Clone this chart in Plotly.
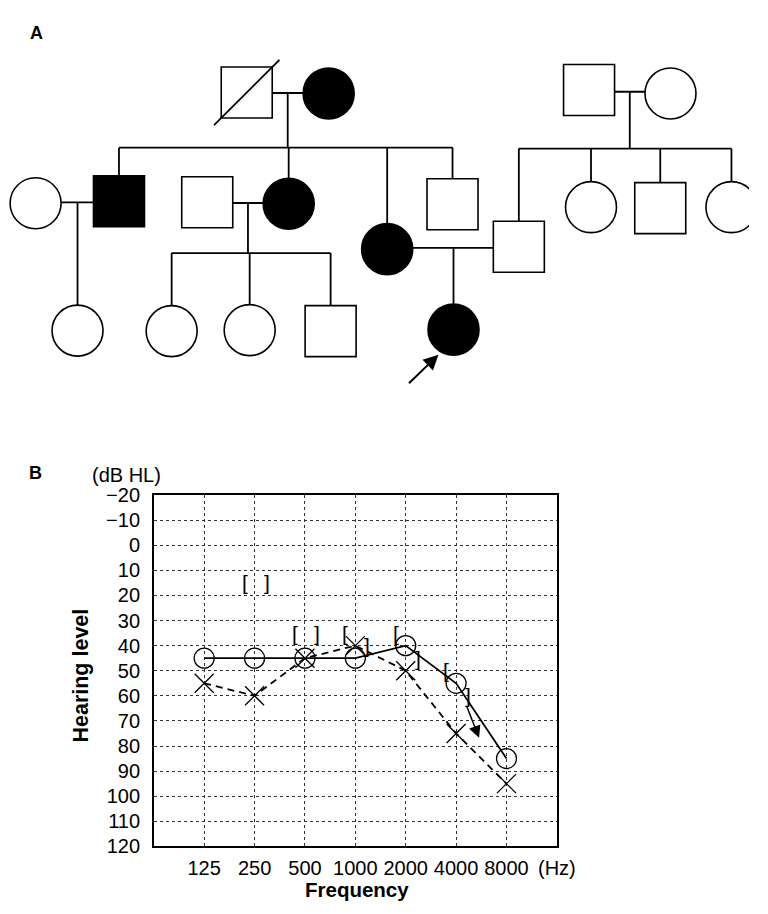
import plotly.graph_objects as go

# ---------------- Panel B: audiogram data ----------------
freq_labels = ["125", "250", "500", "1000", "2000", "4000", "8000"]
unit_label = "(Hz)"
right_air_db = [45, 45, 45, 45, 40, 55, 85]      # O, solid line
left_air_db = [55, 60, 45, 40, 50, 75, 95]       # X, dashed line
right_bone_db = [None, 15, 35, 35, 35, 50, None]  # "["
left_bone_db = [None, 15, 35, 40, 45, 60, None]   # "]"
hl_ticks = list(range(-20, 121, 10))
hl_labels = [("\u2212" + str(-v)) if v < 0 else str(v) for v in hl_ticks]

# ---------------- Panel A: pedigree data ----------------
ped_ids = ["I-1", "I-2", "I-3", "I-4",
           "II-1", "II-2", "II-3", "II-4", "II-5", "II-6", "II-7", "II-8", "II-9", "II-10",
           "III-1", "III-2", "III-3", "III-4", "III-5"]
ped_sex = ["M", "F", "M", "F",
           "F", "M", "M", "F", "F", "M", "M", "F", "M", "F",
           "F", "F", "F", "M", "F"]
ped_affected = [False, True, False, False,
                False, True, False, True, True, False, False, False, False, False,
                False, False, False, False, True]
ped_deceased = ["I-1"]
ped_proband = "III-5"
# (husband, wife, children, sibship-line level or None)
ped_couples = [
    ("I-1", "I-2", ["II-2", "II-4", "II-5", "II-6"], 140),
    ("I-3", "I-4", ["II-7", "II-8", "II-9", "II-10"], 141),
    ("II-2", "II-1", ["III-1"], None),
    ("II-3", "II-4", ["III-2", "III-3", "III-4"], 248),
    ("II-7", "II-5", ["III-5"], None),
]
# drawing positions of each individual (pedigree canvas units)
ped_pos_x = [253, 337, 604, 687.5,
             36.5, 122, 212.5, 296, 397, 464, 532, 606, 677, 750,
             79.5, 176, 256, 339, 465]
ped_pos_y = [83.5, 84.5, 81, 84.5,
             197, 195, 196, 197.5, 244, 198, 241.5, 201, 202, 201,
             327.5, 328, 327, 328, 326.5]

W, H = 768, 914
PED_H = 420
FONT = "Liberation Sans, Arial, sans-serif"

fig = go.Figure()

# ---------------- pedigree ----------------
pos = {pid: (ped_pos_x[i], ped_pos_y[i]) for i, pid in enumerate(ped_ids)}
lx, ly = [], []
for hus, wif, kids, sib_y in ped_couples:
    (hx, hy), (wx, wy) = pos[hus], pos[wif]
    my = (hy + wy) / 2
    mx = (hx + wx) / 2
    lx += [hx, wx, None]
    ly += [my, my, None]
    if sib_y is None:
        kx, ky = pos[kids[0]]
        lx += [kx, kx, None]
        ly += [my, ky, None]
    else:
        lx += [mx, mx, None]
        ly += [my, sib_y, None]
        xs = [pos[k][0] for k in kids] + [mx]
        lx += [min(xs), max(xs), None]
        ly += [sib_y, sib_y, None]
        for k in kids:
            kx, ky = pos[k]
            lx += [kx, kx, None]
            ly += [sib_y, ky, None]
fig.add_trace(go.Scatter(x=lx, y=ly, mode="lines", xaxis="x2", yaxis="y2",
                         line=dict(color="black", width=1.8), hoverinfo="skip"))

SL = 33.5
sx, sy = [], []
for pid in ped_deceased:
    cx, cy = pos[pid]
    sx += [cx - SL, cx + SL, None]
    sy += [cy + SL, cy - SL, None]

fig.add_trace(go.Scatter(
    x=ped_pos_x, y=ped_pos_y, mode="markers", xaxis="x2", yaxis="y2",
    text=ped_ids, hoverinfo="text",
    marker=dict(symbol=["square" if s == "M" else "circle" for s in ped_sex],
                size=51,
                color=["black" if a else "white" for a in ped_affected],
                line=dict(color="black", width=1.6))))
fig.add_trace(go.Scatter(x=sx, y=sy, mode="lines", xaxis="x2", yaxis="y2",
                         line=dict(color="black", width=1.8), hoverinfo="skip"))

px_, py_ = pos[ped_proband]

# ---------------- audiogram ----------------
fidx = list(range(len(freq_labels)))
fig.add_trace(go.Scatter(
    x=fidx, y=right_air_db, mode="lines+markers", name="Right air",
    line=dict(color="black", width=1.8),
    marker=dict(symbol="circle-open", size=20, color="black",
                line=dict(width=1.3, color="black"))))
fig.add_trace(go.Scatter(
    x=fidx, y=left_air_db, mode="lines+markers", name="Left air",
    line=dict(color="black", width=1.8, dash="7px,5px"),
    marker=dict(symbol="x-thin-open", size=19, color="black",
                line=dict(width=1.3, color="black"))))

annotations = []
for i, v in enumerate(right_bone_db):
    if v is not None:
        annotations.append(dict(x=i, y=v, xref="x", yref="y", text="[", showarrow=False,
                                xshift=-10, font=dict(size=21, family=FONT, color="black")))
for i, v in enumerate(left_bone_db):
    if v is not None:
        annotations.append(dict(x=i, y=v, xref="x", yref="y", text="]", showarrow=False,
                                xshift=12, font=dict(size=21, family=FONT, color="black")))

# no-response arrow from the 4000 Hz bone symbol
annotations.append(dict(x=5, y=left_bone_db[5], xref="x", yref="y", xshift=23, yshift=-42,
                        ax=-13, ay=-33, showarrow=True, arrowhead=2, arrowsize=1.6,
                        arrowwidth=1.5, arrowcolor="black", text=""))

# proband arrow
annotations.append(dict(x=px_, y=py_, xref="x2", yref="y2", xshift=-15, yshift=-25,
                        ax=-31, ay=30, showarrow=True, arrowhead=2, arrowsize=1.5,
                        arrowwidth=2, arrowcolor="black", text=""))

def ann(text, xpx, ypx, size, bold=False, angle=0):
    return dict(x=xpx / W, y=1 - ypx / H, xref="paper", yref="paper",
                text=("<b>%s</b>" % text) if bold else text, showarrow=False,
                textangle=angle, xanchor="center", yanchor="middle",
                font=dict(size=size, family=FONT, color="black"))

annotations += [
    ann("A", 37, 23, 18, bold=True),
    ann("B", 36, 473, 18, bold=True),
    ann("(dB HL)", 130, 475, 20),
    ann("Hearing level", 83, 681, 21.5, bold=True, angle=-90),
    ann("Frequency", 366, 900, 20.5, bold=True),
]

x0, x1, y0, y1 = 157.7, 571, 496, 856
axis_common = dict(showgrid=True, gridcolor="#333", griddash="dot", gridwidth=1,
                   showline=True, mirror=True, linecolor="black", linewidth=1.5,
                   zeroline=False, ticks="", fixedrange=True,
                   tickfont=dict(size=20, family=FONT, color="black"))

fig.update_layout(
    width=W, height=H, margin=dict(l=0, r=0, t=0, b=0),
    paper_bgcolor="white", plot_bgcolor="white", showlegend=False,
    annotations=annotations,
    xaxis=dict(domain=[x0 / W, x1 / W], range=[-1, 7],
               tickvals=list(range(len(freq_labels) + 1)),
               ticktext=freq_labels + [unit_label],
               ticklabelstandoff=3, **axis_common),
    yaxis=dict(domain=[1 - y1 / H, 1 - y0 / H], range=[120, -20],
               tickvals=hl_ticks, ticktext=hl_labels,
               ticklabelstandoff=8, **axis_common),
    xaxis2=dict(domain=[0, 1], range=[0, W], visible=False, anchor="y2", fixedrange=True),
    yaxis2=dict(domain=[1 - PED_H / H, 1], range=[PED_H, 0], visible=False, anchor="x2",
                fixedrange=True),
)

fig.write_html(
    "out.html",
    config={"displayModeBar": False},
    post_script="document.body.style.margin='0';",
)
